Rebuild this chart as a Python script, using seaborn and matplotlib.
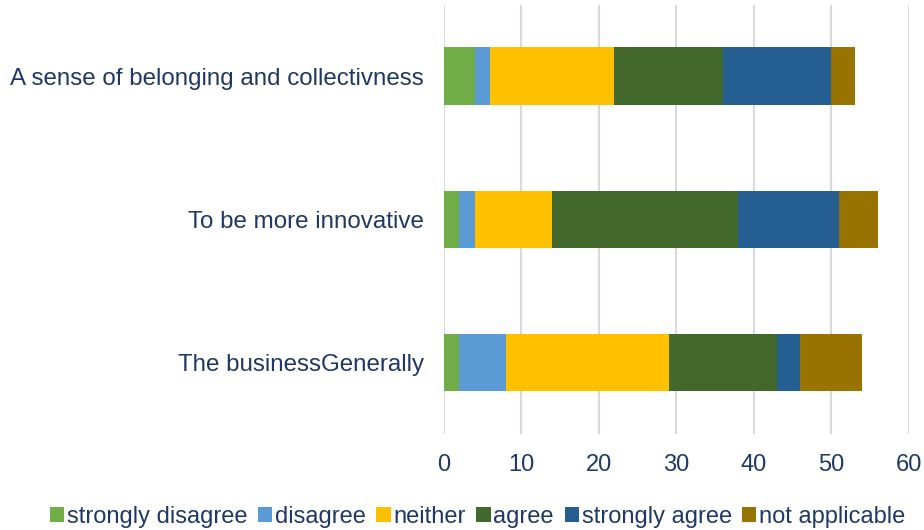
import numpy as np
import pandas as pd
import matplotlib
matplotlib.use("Agg")
import matplotlib.pyplot as plt
from matplotlib.patches import Patch
import seaborn as sns

# Survey responses per statement
categories = [
    "A sense of belonging and collectivness",
    "To be more innovative",
    "The businessGenerally",
]
series_names = ["strongly disagree", "disagree", "neither", "agree",
                "strongly agree", "not applicable"]
strongly_disagree = [4, 2, 2]
disagree = [2, 2, 6]
neither = [16, 10, 21]
agree = [14, 24, 14]
strongly_agree = [14, 13, 3]
not_applicable = [3, 5, 8]
x_ticks = [0, 10, 20, 30, 40, 50, 60]

colors = ["#70ad47", "#5b9bd5", "#ffc000", "#43682b", "#255e91", "#997300"]
text_color = "#203864"

sns.set_theme(style="white")
plt.rcParams["font.family"] = ["Liberation Sans", "DejaVu Sans"]

values = np.array([strongly_disagree, disagree, neither, agree,
                   strongly_agree, not_applicable], dtype=float)
cum = values.cumsum(axis=0)

fig = plt.figure(figsize=(9.24, 5.30), dpi=100)
ax = fig.add_axes([0.48, 0.181, 0.5038, 0.8105])

# Stacked bars: draw cumulative totals from the outermost segment inward
for i in range(len(series_names) - 1, -1, -1):
    df = pd.DataFrame({"category": categories, "value": cum[i]})
    sns.barplot(data=df, x="value", y="category", orient="h",
                color=colors[i], saturation=1, width=0.4,
                linewidth=0, ax=ax, zorder=3)

ax.set_xlim(0, 60)
ax.set_ylim(2.5, -0.5)
ax.set_xticks(x_ticks)
ax.set_xticklabels([str(t) for t in x_ticks])
ax.xaxis.grid(True, color="#d9d9d9", linewidth=1.5, zorder=0)
ax.yaxis.grid(False)
ax.set_axisbelow(True)
for s in ax.spines.values():
    s.set_visible(False)
ax.set_xlabel("")
ax.set_ylabel("")
ax.tick_params(axis="both", length=0, labelsize=17, colors=text_color)
ax.tick_params(axis="y", labelsize=17.4)
ax.tick_params(axis="x", pad=14)
ax.tick_params(axis="y", pad=14)

handles = [Patch(facecolor=c, edgecolor="none") for c in colors]
fig.legend(handles, series_names, loc="lower center", ncol=6,
           bbox_to_anchor=(0.517, -0.036), frameon=False, fontsize=17,
           labelcolor=text_color, handlelength=0.6, handleheight=0.6,
           handletextpad=0.12, columnspacing=0.45)

fig.savefig("out.png", dpi=100)
